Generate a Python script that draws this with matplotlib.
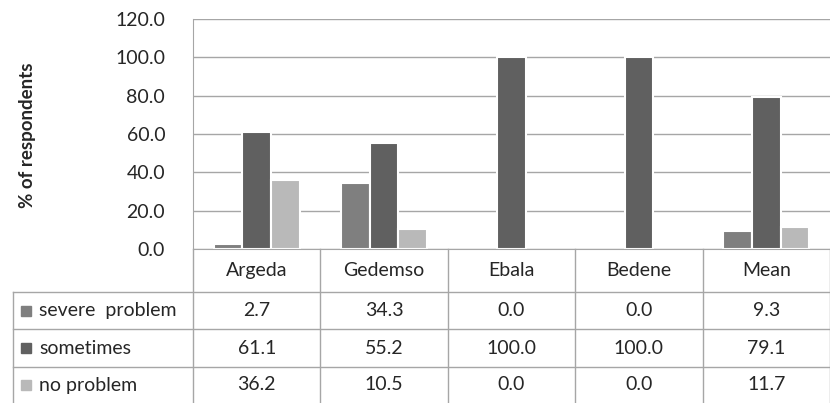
import numpy as np
import matplotlib.pyplot as plt
from matplotlib.patches import Rectangle

plt.rcParams['font.family'] = ['Lato', 'DejaVu Sans']

# data
sites = ["Argeda", "Gedemso", "Ebala", "Bedene", "Mean"]
series = ["severe  problem", "sometimes", "no problem"]
severe = [2.7, 34.3, 0.0, 0.0, 9.3]
sometimes = [61.1, 55.2, 100.0, 100.0, 79.1]
no_problem = [36.2, 10.5, 0.0, 0.0, 11.7]
colors = ["#7f7f7f", "#606060", "#b9b9b9"]
yticks = [0, 20, 40, 60, 80, 100, 120]

values = [severe, sometimes, no_problem]
text_col = "#262626"
line_col = "#a6a6a6"
fs = 14

W, H = 830, 403
fig = plt.figure(figsize=(W / 100, H / 100), dpi=100)

# chart area
x0, x1 = 193, 830
ytop, ybot = 19, 249
ax = fig.add_axes([x0 / W, 1 - ybot / H, (x1 - x0) / W, (ybot - ytop) / H])
x = np.arange(len(sites))
step = 0.226
for i, (vals, c) in enumerate(zip(values, colors)):
    lws = [1.5 if v > 0 else 0 for v in vals]
    ax.bar(x + (i - 1) * step, vals, width=step, color=c,
           edgecolor="white", linewidth=lws, zorder=2)
ax.set_xlim(-0.5, len(sites) - 0.5)
ax.set_ylim(0, 120)
ax.set_yticks(yticks)
ax.set_yticklabels([f"{v:.1f}" for v in yticks], fontsize=fs, color=text_col)
ax.tick_params(axis="y", length=0, pad=20)
ax.set_xticks([])
ax.grid(axis="y", color=line_col, linewidth=1, zorder=0)
ax.set_axisbelow(True)
for s in ["top", "right"]:
    ax.spines[s].set_visible(False)
ax.spines["left"].set_color(line_col)
ax.spines["bottom"].set_color(line_col)
fig.text(27 / W, 1 - 135 / H, "% of respondents", rotation=90, ha="center",
         va="center", fontsize=13.5, fontweight="bold", color=text_col)

# data table under the chart
unit = (x1 - x0) / len(sites)
tl = 13
tax = fig.add_axes([tl / W, 0, (W - tl) / W, (H - ybot) / H])
left = -0.5 - (x0 - tl) / unit
tax.set_xlim(left, len(sites) - 0.5)
tax.set_ylim(H - ybot, 0)
tax.axis("off")

row_edges = [0, 43, 80, 118, H - ybot]
for k in range(len(sites) + 1):
    tax.plot([k - 0.5, k - 0.5], [0, H - ybot], color=line_col, lw=1, clip_on=False)
tax.plot([left, left], [row_edges[1], H - ybot], color=line_col, lw=1, clip_on=False)
for yy in row_edges[1:4]:
    tax.plot([left, len(sites) - 0.5], [yy, yy], color=line_col, lw=1, clip_on=False)

for j, name in enumerate(sites):
    tax.text(j, (row_edges[0] + row_edges[1]) / 2, name, ha="center",
             va="center", fontsize=fs, color=text_col)

key = 10 / unit
for r, (name, vals, c) in enumerate(zip(series, values, colors)):
    yc = (row_edges[r + 1] + row_edges[r + 2]) / 2
    tax.add_patch(Rectangle((left + 8 / unit, yc - 5), key, 10, color=c))
    tax.text(left + 26 / unit, yc, name, ha="left", va="center",
             fontsize=fs, color=text_col)
    for j, v in enumerate(vals):
        tax.text(j, yc, f"{v:.1f}", ha="center", va="center",
                 fontsize=fs, color=text_col)

fig.savefig("out.png", dpi=100)
